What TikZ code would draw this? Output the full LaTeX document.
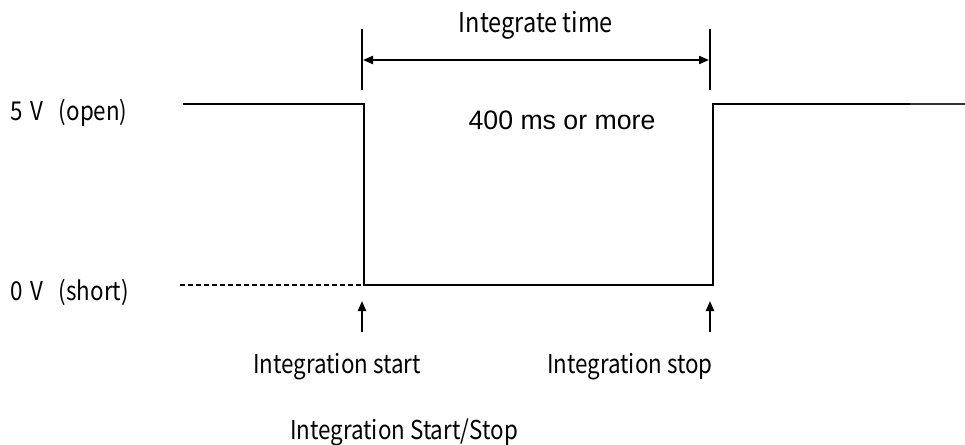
\documentclass[tikz,border=0pt]{standalone}
\usepackage{fontspec}
\newfontfamily\gothfont[FakeStretch=0.86]{Noto Sans CJK JP}
\newfontfamily\arialfont{Liberation Sans}
\usetikzlibrary{arrows.meta,positioning,calc}

\begin{document}
\begin{tikzpicture}[
  x=0.75pt, y=-0.75pt,
  >={Triangle[length=7.5pt,width=6pt]},
  wave/.style={line width=1.7pt, draw=black},
  tail/.style={line width=0.8pt, draw=black!80},
  lowdash/.style={line width=1.5pt, dash pattern=on 3.75pt off 2.25pt},
  marker/.style={line width=1.5pt},
  arrow/.style={->, line width=1.5pt},
  span/.style={<->, line width=1.5pt},
  lbl/.style={font=\gothfont\fontsize{19.5}{22}\selectfont, inner sep=0pt},
  note/.style={font=\arialfont\fontsize{20}{24}\selectfont, inner sep=0pt}
]
  \useasboundingbox (0,0) rectangle (965,444);

  % Level labels
  \node[lbl, anchor=west] (high) at (10,113) {5\hspace{0.3em}V\hspace{0.6em}(open)};
  \node[lbl, anchor=west] (low) at (10,292) {0\hspace{0.3em}V\hspace{0.6em}(short)};

  % Waveform corners
  \coordinate (h0) at (183,104);
  \coordinate (f1) at (364,104);
  \coordinate (f0) at (364,285);
  \coordinate (r0) at (713,285);
  \coordinate (r1) at (713,104);
  \coordinate (h1) at (910,104);
  \coordinate (h2) at (965,104);
  \coordinate (d0) at (180,285);

  \draw[wave] (h0) -- (f1) -- (f0) -- (r0) -- (r1) -- (h1);
  \draw[tail] (h1) -- (h2);
  \draw[lowdash] (d0) -- (f0);

  % Integrate time span
  \coordinate (m1t) at (362,29);
  \coordinate (m1b) at (362,90);
  \coordinate (m2t) at (710,29);
  \coordinate (m2b) at (710,90);
  \draw[marker] (m1t) -- (m1b);
  \draw[marker] (m2t) -- (m2b);
  \coordinate (s1) at (363,60);
  \coordinate (s2) at (709,60);
  \draw[span] (s1) -- (s2);

  \node[lbl, font=\gothfont\fontsize{20.5}{22}\selectfont] (itime) at (536,25) {Integrate time};
  \node[note] (dur) at (562,120) {400 ms or more};

  % Start / stop events
  \node[lbl] (start) at (337,367) {Integration start};
  \node[lbl] (stop) at (630,367) {Integration stop};
  \coordinate (a1) at (362,332);
  \coordinate (a2) at (710,332);
  \draw[arrow] (a1) -- ($(a1)+(0,-31)$);
  \draw[arrow] (a2) -- ($(a2)+(0,-31)$);

  \node[lbl] (title) at (404,432) {Integration Start/Stop};

\end{tikzpicture}
\end{document}
